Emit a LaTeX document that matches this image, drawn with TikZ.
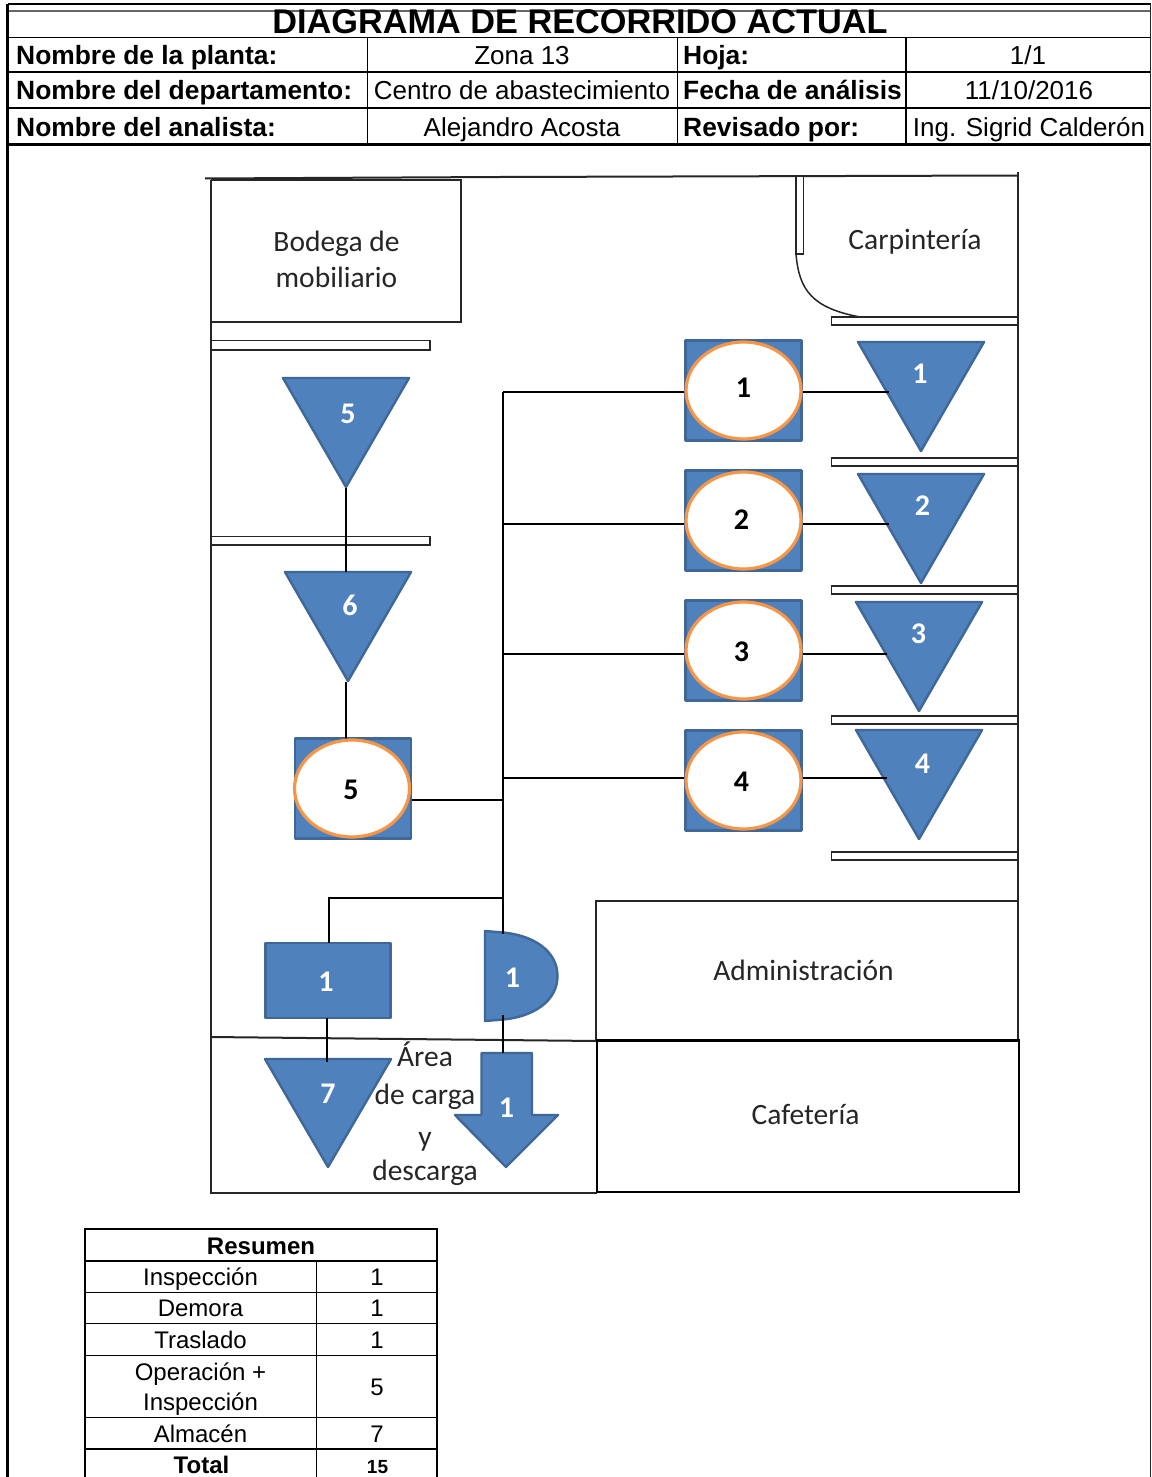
\documentclass[tikz,border=0pt]{standalone}
\usepackage{fontspec}
\usetikzlibrary{shapes.geometric}
\setmainfont{Liberation Sans}
\newfontfamily\carl{Carlito}
\definecolor{sblue}{HTML}{4F81BD}
\definecolor{sedge}{HTML}{3F6797}
\definecolor{sorange}{HTML}{F79646}
\definecolor{wall}{HTML}{262626}
\tikzset{
  x=1pt,y=-1pt,
  sym/.style={fill=sblue,draw=sedge,line width=2.4pt,line join=round},
  squarebox/.style={sym,minimum width=116pt,minimum height=100pt,inner sep=0pt},
  circ/.style={ellipse,fill=white,draw=sorange,line width=3.2pt,minimum width=115pt,minimum height=97pt,inner sep=0pt},
  wn/.style={inner sep=0pt,text=white,font=\carl\bfseries\fontsize{30}{31}\selectfont},
  bn/.style={inner sep=0pt,font=\carl\bfseries\fontsize{30}{31}\selectfont},
  shelf/.style={draw=wall,fill=white,line width=1.8pt},
  wallline/.style={draw=wall,line width=2pt},
  link/.style={draw=black,line width=1.6pt},
  room/.style={inner sep=0pt,anchor=base,text=black!85,font=\carl\fontsize{29.5}{31}\selectfont},
  hb/.style={inner sep=0pt,anchor=base west,font=\bfseries\fontsize{26.4}{28}\selectfont},
  hv/.style={inner sep=0pt,anchor=base,font=\fontsize{26}{28}\selectfont},
  tv/.style={inner sep=0pt,anchor=base,font=\fontsize{24}{26}\selectfont},
  tb/.style={inner sep=0pt,anchor=base,font=\bfseries\fontsize{24}{26}\selectfont},
  thick1/.style={draw=black,line width=2.5pt},
  thin1/.style={draw=black,line width=1.8pt},
}
\newcommand{\invtri}[2]{% centre x, top y
  \path[sym] (#1-63,#2) -- (#1+63,#2) -- (#1,#2+109) -- cycle;
}
\begin{document}
\begin{tikzpicture}
\useasboundingbox[fill=white] (0,0) rectangle (1151,1477);

% page frame
\draw[line width=2pt,black] (7.5,4) -- (1150.5,4);
\draw[line width=1.5pt,black!60] (8,11) -- (1150,11);
\draw[line width=2.2pt,black] (7.5,4) -- (7.5,1477);
\draw[line width=1.5pt,black!85] (1150.5,4) -- (1150.5,1477);

% header table
\draw[thin1] (8,37.5) -- (1150,37.5);
\draw[thin1] (8,72) -- (1150,72);
\draw[thin1] (8,108) -- (1150,108);
\draw[line width=3pt,black] (8,144.5) -- (1150,144.5);
\foreach \xx in {367.5,677.5,906} \draw[thin1] (\xx,37.5) -- (\xx,144.5);

\node[inner sep=0pt,anchor=base,font=\bfseries\fontsize{34.3}{36}\selectfont] (title) at (580,33.5) {DIAGRAMA DE RECORRIDO ACTUAL};
\node[hb] (h1) at (16,65) {Nombre de la planta:};
\node[hb] (h2) at (16,100) {Nombre del departamento:};
\node[hb] (h3) at (16,136) {Nombre del analista:};
\node[hv] (v1) at (522,65) {Zona 13};
\node[hv] (v2) at (522,100) {Centro de abastecimiento};
\node[hv] (v3) at (522,136) {Alejandro Acosta};
\node[hb] (h4) at (683,65) {Hoja:};
\node[hb] (h5) at (683,100) {Fecha de análisis};
\node[hb] (h6) at (683,136) {Revisado por:};
\node[hv] (v4) at (1028,65) {1/1};
\node[hv] (v5) at (1029,100) {11/10/2016};
\node[hv] (v6) at (1029,136) {Ing. Sigrid Calderón};

% walls and rooms
\draw[wallline] (205,178.5) -- (500,177) -- (1018,175.5);
\draw[wallline] (1018,172) -- (1018,1040);
\draw[wallline] (211,180) -- (211,1192.5) -- (597,1192.5);
\draw[wallline] (211,180) -- (461,180) -- (461,322) -- (211,322);
\draw[wallline] (211,1037) -- (597,1041);
\draw[wallline] (595.5,1040) -- (595.5,900.5) -- (1018,900.5);
\draw[line width=2.4pt,black] (597,1192) -- (597,1040.5) -- (1019,1040.5) -- (1019,1192) -- cycle;
\path[shelf] (796,176) rectangle (803.5,254);
\draw[line width=1.5pt,wall] (796,254) .. controls (799,290) and (812,308) .. (860,317);
\foreach \yy in {317,458,586,716,852} \path[shelf] (831.5,\yy) rectangle (1018,\yy+8);
\path[shelf] (211,340.5) rectangle (430,350);
\path[shelf] (211,536.5) rectangle (430,545);

\node[room] (rBodega1) at (336.5,251.5) {Bodega de};
\node[room] (rBodega2) at (336.5,287.5) {mobiliario};
\node[room] (rCarp) at (915,249) {Carpintería};
\node[room] (rAdmin) at (803.5,980) {Administración};
\node[room] (rCaf) at (805.5,1124) {Cafetería};
\node[room] (rA1) at (425,1066) {Área};
\node[room] (rA2) at (425,1104) {de carga};
\node[room] (rA3) at (425,1146) {y};
\node[room] (rA4) at (425,1180) {descarga};

% junction coordinates
\coordinate (spineTop) at (503,392);
\coordinate (spine2) at (503,524);
\coordinate (spine3) at (503,654);
\coordinate (spine4) at (503,778);
\coordinate (spine5) at (503,800);
\coordinate (spine6) at (503,898);
\coordinate (spineEnd) at (503,934);
\coordinate (corner) at (329,898);

% symbols: operation + inspection
\node[squarebox] (s1) at (743.5,390.5) {};
\node[squarebox] (s2) at (743.5,520.5) {};
\node[squarebox] (s3) at (743.5,650.5) {};
\node[squarebox] (s4) at (743.5,780.5) {};
\node[squarebox] (s5) at (353,788.5) {};

% store triangles
\invtri{921}{342}
\invtri{921}{474}
\invtri{919}{602}
\invtri{919}{730}
\invtri{346}{378}
\invtri{348}{572}
\path[sym] (265,1059) -- (391,1059) -- (328,1167) -- cycle;
\coordinate (t1w) at (889,392);
\coordinate (t2w) at (889,524);
\coordinate (t3w) at (887,654);
\coordinate (t4w) at (887,778);
\coordinate (t5s) at (346,488);
\coordinate (t6n) at (346,572);
\coordinate (t6s) at (346,682);
\coordinate (s5n) at (346,740);
\coordinate (t7n) at (327,1062);

% box, delay, transport
\node[sym,minimum width=125pt,minimum height=75pt,inner sep=0pt] (box) at (328,980.5) {};
\path[sym] (485,931) -- (497,932) .. controls (535,934) and (557.5,952) .. (557.5,976) .. controls (557.5,1000) and (535,1018) .. (497,1020) -- (485,1021) -- cycle;
\coordinate (dBot) at (503,1015);
\path[sym] (481.5,1053) -- (532,1053) -- (532,1115) -- (558,1115) -- (506,1167) -- (455,1115) -- (481.5,1115) -- cycle;
\coordinate (aTop) at (503,1053);
\coordinate (bTopC) at (329,943);
\coordinate (bBot) at (327,1018);

% connectors
\draw[link] (spineTop) -- (spineEnd);
\draw[link] (spineTop) -- (s1.west |- spineTop);
\draw[link] (spine2) -- (s2.west |- spine2);
\draw[link] (spine3) -- (s3.west |- spine3);
\draw[link] (spine4) -- (s4.west |- spine4);
\draw[link] (s5.east |- spine5) -- (spine5);
\draw[link] (spine6) -- (corner) -- (bTopC);
\draw[link] (dBot) -- (aTop);
\draw[link] (bBot) -- (t7n);
\draw[link] (t5s) -- (t6n);
\draw[link] (t6s) -- (s5n);
\draw[link] (s1.east |- t1w) -- (t1w);
\draw[link] (s2.east |- t2w) -- (t2w);
\draw[link] (s3.east |- t3w) -- (t3w);
\draw[link] (s4.east |- t4w) -- (t4w);

% orange ellipses with numbers
\node[circ] (e1) at (743.5,390.5) {};
\node[circ] (e2) at (743.5,520.5) {};
\node[circ] (e3) at (743.5,650.5) {};
\node[circ] (e4) at (743.5,780.5) {};
\node[circ] (e5) at (352,788.5) {};
\node[bn] (n1) at (743.5,388) {1};
\node[bn] (n2) at (741.5,520) {2};
\node[bn] (n3) at (741.5,652) {3};
\node[bn] (n4) at (741.5,782) {4};
\node[bn] (n5) at (351,790) {5};

% white numbers
\node[wn] (w1) at (920,373.5) {1};
\node[wn] (w2) at (922.5,505.5) {2};
\node[wn] (w3) at (918.5,633.5) {3};
\node[wn] (w4) at (922.5,763.5) {4};
\node[wn] (w5) at (348,413.5) {5};
\node[wn] (w6) at (350,605.5) {6};
\node[wn] (w7) at (328,1094) {7};
\node[wn] (wb) at (326,982) {1};
\node[wn] (wd) at (512.5,978) {1};
\node[wn] (wa) at (506.5,1107.5) {1};

% summary table
\draw[thick1] (85,1477) -- (85,1229) -- (437,1229) -- (437,1477);
\draw[line width=1.4pt] (316.5,1261) -- (316.5,1477);
\draw[line width=1.3pt] (85,1261) -- (437,1261);
\draw[thin1] (85,1292.5) -- (437,1292.5);
\draw[line width=1.3pt] (85,1323.5) -- (437,1323.5);
\draw[thin1] (85,1355.5) -- (437,1355.5);
\draw[line width=1.1pt] (85,1417.5) -- (437,1417.5);
\draw[line width=2.2pt] (85,1449) -- (437,1449);
\node[tb] (rh) at (261,1254) {Resumen};
\node[tv] (r1) at (200.5,1285) {Inspección};
\node[tv] (r2) at (200.5,1316) {Demora};
\node[tv] (r3) at (200.5,1348) {Traslado};
\node[tv] (r4a) at (200.5,1380) {Operación +};
\node[tv] (r4b) at (200.5,1410) {Inspección};
\node[tv] (r5) at (200.5,1442) {Almacén};
\node[tb] (r6) at (201.5,1473) {Total};
\node[tv] (c1) at (377,1285) {1};
\node[tv] (c2) at (377,1316) {1};
\node[tv] (c3) at (377,1348) {1};
\node[tv] (c4) at (377,1395) {5};
\node[tv] (c5) at (377,1442) {7};
\node[inner sep=0pt,anchor=base,font=\bfseries\fontsize{19}{21}\selectfont] (c6) at (377.5,1473.5) {15};
\end{tikzpicture}
\end{document}
